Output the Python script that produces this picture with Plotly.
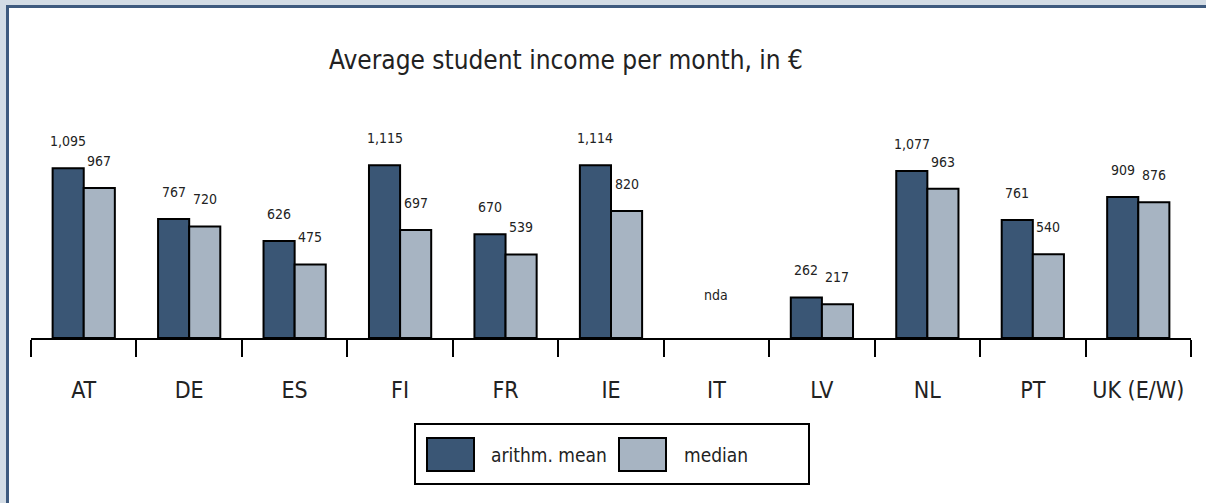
import plotly.graph_objects as go

# Average student income per month (EUR) by country
countries = ["AT", "DE", "ES", "FI", "FR", "IE", "IT", "LV", "NL", "PT", "UK (E/W)"]
mean_income = [1095, 767, 626, 1115, 670, 1114, None, 262, 1077, 761, 909]
median_income = [967, 720, 475, 697, 539, 820, None, 217, 963, 540, 876]
missing_label = "nda"

W, H = 1206, 503
ML, MR, MT, MB = 31, 15, 152, 165
PW, PH = W - ML - MR, H - MT - MB

MEAN_COLOR = "#3a5675"
MEDIAN_COLOR = "#a7b4c2"
FONT = "Liberation Sans Narrow, DejaVu Sans Condensed, Arial Narrow, sans-serif"
TEXT = "#222"
BAR_W = 0.295

xs = list(range(len(countries)))

fig = go.Figure()
fig.add_trace(go.Bar(
    x=xs, y=mean_income, name="arithm. mean", width=BAR_W, offset=-BAR_W,
    marker=dict(color=MEAN_COLOR, line=dict(color="black", width=2)),
    showlegend=False,
))
fig.add_trace(go.Bar(
    x=xs, y=median_income, name="median", width=BAR_W, offset=0,
    marker=dict(color=MEDIAN_COLOR, line=dict(color="black", width=2)),
    showlegend=False,
))


def fmt(v):
    return f"{v:,}"


annotations = []
for i, (m, md) in enumerate(zip(mean_income, median_income)):
    if m is None:
        annotations.append(dict(x=i, y=0, xref="x", yref="y", text=missing_label,
                                showarrow=False, yshift=43,
                                font=dict(size=14, color=TEXT, family=FONT)))
        continue
    annotations.append(dict(x=i - BAR_W / 2, y=m, xref="x", yref="y", text=fmt(m),
                            showarrow=False, yanchor="middle", yshift=27,
                            font=dict(size=14, color=TEXT, family=FONT)))
    annotations.append(dict(x=i + BAR_W / 2, y=md, xref="x", yref="y", text=fmt(md),
                            showarrow=False, yanchor="middle", yshift=27,
                            font=dict(size=14, color=TEXT, family=FONT)))


def px(x):
    return (x - ML) / PW


def py(y):
    return 1 - (y - MT) / PH


# Title
annotations.append(dict(x=px(566), y=py(60), xref="paper", yref="paper",
                        text="Average student income per month, in \u20ac",
                        showarrow=False, xanchor="center", yanchor="middle",
                        font=dict(size=26, color=TEXT, family=FONT)))

shapes = [
    # outer frame strips and border lines
    dict(type="rect", xref="paper", yref="paper", x0=px(0), x1=px(W), y0=py(0), y1=py(5),
         fillcolor="#d3dce5", line=dict(width=0), layer="below"),
    dict(type="rect", xref="paper", yref="paper", x0=px(0), x1=px(6), y0=py(0), y1=py(H),
         fillcolor="#d3dce5", line=dict(width=0), layer="below"),
    dict(type="rect", xref="paper", yref="paper", x0=px(6), x1=px(W), y0=py(5), y1=py(8),
         fillcolor="#3e5a7e", line=dict(width=0), layer="below"),
    dict(type="rect", xref="paper", yref="paper", x0=px(6), x1=px(9), y0=py(5), y1=py(H),
         fillcolor="#3e5a7e", line=dict(width=0), layer="below"),
    # legend box
    dict(type="rect", xref="paper", yref="paper", x0=px(415), x1=px(809), y0=py(424), y1=py(484),
         fillcolor="white", line=dict(color="black", width=2)),
    dict(type="rect", xref="paper", yref="paper", x0=px(427), x1=px(474), y0=py(438), y1=py(471),
         fillcolor=MEAN_COLOR, line=dict(color="black", width=2)),
    dict(type="rect", xref="paper", yref="paper", x0=px(619), x1=px(666), y0=py(438), y1=py(471),
         fillcolor=MEDIAN_COLOR, line=dict(color="black", width=2)),
]

annotations.append(dict(x=px(489), y=py(455), xref="paper", yref="paper", text="arithm. mean",
                        showarrow=False, xanchor="left", yanchor="middle",
                        font=dict(size=19, color=TEXT, family=FONT)))
annotations.append(dict(x=px(682), y=py(455), xref="paper", yref="paper", text="median",
                        showarrow=False, xanchor="left", yanchor="middle",
                        font=dict(size=19, color=TEXT, family=FONT)))

fig.update_layout(
    width=W, height=H,
    margin=dict(l=ML, r=MR, t=MT, b=MB, pad=0),
    paper_bgcolor="white", plot_bgcolor="white",
    barmode="overlay",
    annotations=annotations,
    shapes=shapes,
    font=dict(family=FONT, color=TEXT),
)
fig.update_xaxes(
    range=[-0.5, len(countries) - 0.5],
    tickvals=xs, ticktext=countries,
    ticks="", showgrid=False, zeroline=False,
    showline=True, linecolor="black", linewidth=2,
    tickfont=dict(size=23, color=TEXT, family=FONT),
    ticklabelstandoff=30,
    minor=dict(tick0=-0.5, dtick=1, ticks="outside", ticklen=17, tickwidth=2,
               tickcolor="black", showgrid=False),
)
fig.update_yaxes(range=[0, 1200], visible=False, showgrid=False, zeroline=False)

fig.write_html("out.html")
